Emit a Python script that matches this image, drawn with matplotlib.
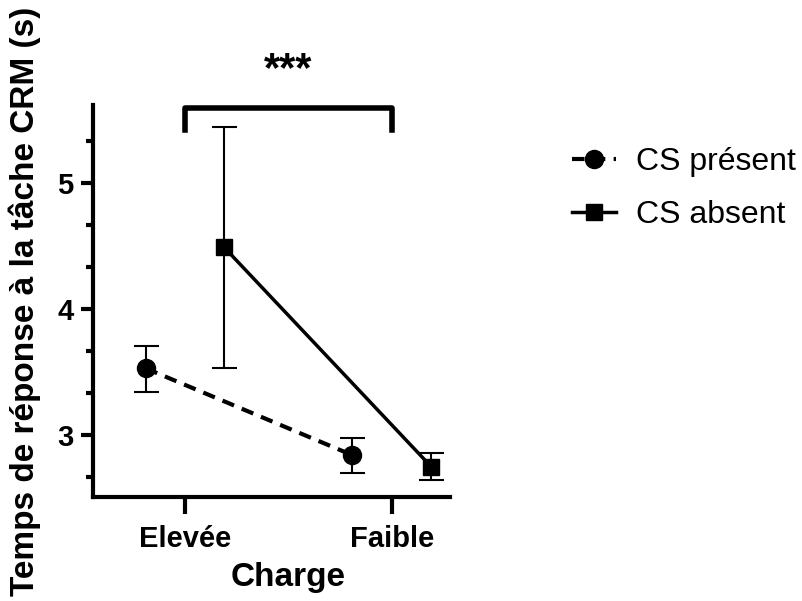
import matplotlib.pyplot as plt
from matplotlib.ticker import MultipleLocator

plt.rcParams['font.family'] = ['Liberation Sans', 'DejaVu Sans']

categories = ['Elevée', 'Faible']
present_mean = [3.53, 2.84]
present_err_low = [3.34, 2.70]
present_err_high = [3.71, 2.98]
absent_mean = [4.49, 2.75]
absent_err_low = [3.53, 2.64]
absent_err_high = [5.45, 2.86]

fig = plt.figure(figsize=(8.03, 6.01), dpi=100)
ax = fig.add_axes([0.116, 0.173, 0.444, 0.652])

x = [0, 1]
off = 0.19
xp = [i - off for i in x]
xa = [i + off for i in x]

yerr_p = [[m - lo for m, lo in zip(present_mean, present_err_low)],
          [hi - m for m, hi in zip(present_mean, present_err_high)]]
yerr_a = [[m - lo for m, lo in zip(absent_mean, absent_err_low)],
          [hi - m for m, hi in zip(absent_mean, absent_err_high)]]

ax.errorbar(xp, present_mean, yerr=yerr_p, fmt='none', ecolor='black',
            elinewidth=1.5, capsize=9, capthick=1.5)
ax.errorbar(xa, absent_mean, yerr=yerr_a, fmt='none', ecolor='black',
            elinewidth=1.5, capsize=9, capthick=1.5)
ax.plot(xp, present_mean, color='black', linestyle=(0, (3, 2)), linewidth=3,
        marker='o', markersize=13, label='CS présent')
ax.plot(xa, absent_mean, color='black', linestyle='-', linewidth=2.5,
        marker='s', markersize=12, label='CS absent')

ax.set_xlim(-0.444, 1.28)
ax.set_ylim(2.508, 5.62)
ax.set_xticks(x)
ax.set_xticklabels(categories, fontsize=21, fontweight='bold')
ax.set_yticks([3, 4, 5])
ax.yaxis.set_minor_locator(MultipleLocator(1 / 3))
ax.tick_params(axis='y', labelsize=21, width=3, length=9, pad=5)
ax.tick_params(axis='y', which='minor', width=3, length=5)
ax.tick_params(axis='x', width=3, length=12, pad=8)
for lbl in ax.get_yticklabels():
    lbl.set_fontweight('bold')

for s in ['top', 'right']:
    ax.spines[s].set_visible(False)
for s in ['left', 'bottom']:
    ax.spines[s].set_linewidth(3)

ax.set_xlabel('Charge', fontsize=24, fontweight='bold', labelpad=12)
ax.xaxis.set_label_coords(0.546, -0.165)
ax.set_ylabel('Temps de réponse à la tâche CRM (s)', fontsize=24,
              fontweight='bold', labelpad=12)

# significance bracket
ax.plot([0, 0, 1, 1], [5.42, 5.6, 5.6, 5.42], color='black', linewidth=4,
        clip_on=False, solid_joinstyle='round')
ax.text(0.5, 5.74, '***', ha='center', va='bottom', fontsize=30, fontweight='bold')

ax.legend(loc='upper left', bbox_to_anchor=(1.342, 0.892), frameon=False,
          fontsize=23, handlelength=1.4, handletextpad=0.6, labelspacing=0.7,
          borderaxespad=0, borderpad=0)

fig.savefig('out.png', dpi=100)
